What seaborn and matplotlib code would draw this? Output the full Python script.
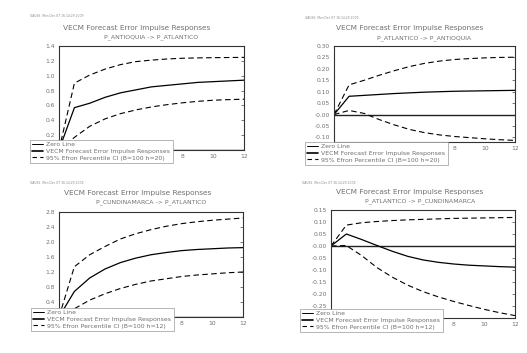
import numpy as np
import pandas as pd
import seaborn as sns
import matplotlib.pyplot as plt
from matplotlib.lines import Line2D

# Impulse responses (steps 0..12)
steps = list(range(13))

title = "VECM Forecast Error Impulse Responses"
stamp = "GAUSS  Mon Dec 07 16:14:29 2009"

# (1) P_ANTIOQUIA -> P_ATLANTICO
sub1 = "P_ANTIOQUIA -> P_ATLANTICO"
irf1 = [0, 0.57, 0.63, 0.71, 0.77, 0.81, 0.85, 0.87, 0.89, 0.91, 0.92, 0.93, 0.94]
up1 = [0, 0.90, 1.01, 1.09, 1.15, 1.19, 1.21, 1.225, 1.235, 1.24, 1.243, 1.245, 1.247]
lo1 = [0, 0.17, 0.32, 0.42, 0.49, 0.54, 0.58, 0.61, 0.635, 0.655, 0.67, 0.678, 0.684]
yt1 = [0.0, 0.2, 0.4, 0.6, 0.8, 1.0, 1.2, 1.4]
ylab1 = ["", "0.2", "0.4", "0.6", "0.8", "1.0", "1.2", "1.4"]

# (2) P_ATLANTICO -> P_ANTIOQUIA
sub2 = "P_ATLANTICO -> P_ANTIOQUIA"
irf2 = [0, 0.080, 0.084, 0.088, 0.092, 0.095, 0.098, 0.100, 0.102, 0.103, 0.104, 0.105, 0.106]
up2 = [0, 0.13, 0.15, 0.172, 0.192, 0.21, 0.224, 0.234, 0.241, 0.245, 0.248, 0.25, 0.251]
lo2 = [0, 0.018, 0.005, -0.022, -0.045, -0.065, -0.079, -0.089, -0.096, -0.101, -0.106, -0.110, -0.113]
yt2 = [-0.10, -0.05, 0.0, 0.05, 0.10, 0.15, 0.20, 0.25, 0.30]
ylab2 = ["-0.10", "-0.05", "-0.00", "0.05", "0.10", "0.15", "0.20", "0.25", "0.30"]

# (3) P_CUNDINAMARCA -> P_ATLANTICO
sub3 = "P_CUNDINAMARCA -> P_ATLANTICO"
irf3 = [0, 0.68, 1.04, 1.28, 1.45, 1.57, 1.66, 1.72, 1.77, 1.80, 1.82, 1.84, 1.85]
up3 = [0, 1.34, 1.66, 1.88, 2.08, 2.22, 2.33, 2.42, 2.49, 2.54, 2.58, 2.61, 2.64]
lo3 = [0, 0.22, 0.45, 0.62, 0.76, 0.87, 0.96, 1.02, 1.08, 1.12, 1.15, 1.18, 1.20]
yt3 = [0.0, 0.4, 0.8, 1.2, 1.6, 2.0, 2.4, 2.8]
ylab3 = ["", "0.4", "0.8", "1.2", "1.6", "2.0", "2.4", "2.8"]

# (4) P_ATLANTICO -> P_CUNDINAMARCA
sub4 = "P_ATLANTICO -> P_CUNDINAMARCA"
irf4 = [0, 0.05, 0.027, 0.002, -0.022, -0.043, -0.058, -0.068, -0.075, -0.080, -0.083, -0.086, -0.088]
up4 = [0, 0.087, 0.097, 0.102, 0.106, 0.109, 0.111, 0.113, 0.115, 0.116, 0.117, 0.118, 0.119]
lo4 = [0, 0.002, -0.04, -0.09, -0.13, -0.163, -0.19, -0.212, -0.231, -0.248, -0.264, -0.278, -0.29]
yt4 = [-0.30, -0.25, -0.20, -0.15, -0.10, -0.05, 0.0, 0.05, 0.10, 0.15]
ylab4 = ["", "-0.25", "-0.20", "-0.15", "-0.10", "-0.05", "-0.00", "0.05", "0.10", "0.15"]

# x tick labels under the legend are not visible in the original
xt = [0, 2, 4, 6, 8, 10, 12]
xlab = ["", "", "", "", "8", "10", "12"]

sns.set_style("white")
plt.rcParams["font.family"] = ["DejaVu Sans"]

W, H = 527, 353
fig = plt.figure(figsize=(W / 100, H / 100), dpi=100)
txt = "#707070"

panels = [
    # box (l, t, r, b) in px, ylim, legend anchor, title/sub/stamp positions
    dict(irf=irf1, up=up1, lo=lo1, sub=sub1, yt=yt1, ylab=ylab1, h=20,
         box=(59, 46, 244, 150), ylim=(0, 1.4), leg=(30, 140),
         tpos=(137, 28), spos=(151, 37), stpos=(30, 16)),
    dict(irf=irf2, up=up2, lo=lo2, sub=sub2, yt=yt2, ylab=ylab2, h=20,
         box=(334, 46, 515, 142), ylim=(-0.12, 0.30), leg=(305, 142),
         tpos=(410, 28), spos=(424, 38), stpos=(305, 18)),
    dict(irf=irf3, up=up3, lo=lo3, sub=sub3, yt=yt3, ylab=ylab3, h=12,
         box=(59, 212, 243, 317), ylim=(0, 2.8), leg=(31, 308),
         tpos=(138, 193), spos=(151, 202), stpos=(30, 183)),
    dict(irf=irf4, up=up4, lo=lo4, sub=sub4, yt=yt4, ylab=ylab4, h=12,
         box=(331, 210, 515, 318), ylim=(-0.30, 0.15), leg=(300, 309),
         tpos=(410, 192), spos=(420, 201), stpos=(302, 183)),
]

for p in panels:
    l, t, r, b = p["box"]
    ax = fig.add_axes([l / W, 1 - b / H, (r - l) / W, (b - t) / H])
    df = pd.DataFrame({"step": steps, "irf": p["irf"], "upper": p["up"], "lower": p["lo"]})

    ax.axhline(0, color="#222222", lw=1.0, zorder=1)
    sns.lineplot(data=df, x="step", y="irf", ax=ax, color="black", lw=0.9)
    sns.lineplot(data=df, x="step", y="upper", ax=ax, color="black", lw=0.8,
                 linestyle=(0, (5, 3)))
    sns.lineplot(data=df, x="step", y="lower", ax=ax, color="black", lw=0.8,
                 linestyle=(0, (5, 3)))

    ax.set_xlim(0, 12)
    ax.set_ylim(*p["ylim"])
    ax.set_xticks(xt, xlab)
    ax.set_yticks(p["yt"], p["ylab"])
    ax.set_xlabel("")
    ax.set_ylabel("")
    ax.tick_params(direction="in", length=2, width=0.5, right=True,
                   labelsize=4.3, labelcolor=txt, pad=3, color="#444444")
    for s in ax.spines.values():
        s.set_color("#333333")
        s.set_linewidth(0.8)

    handles = [Line2D([], [], color="black", lw=0.7),
               Line2D([], [], color="black", lw=1.2),
               Line2D([], [], color="black", lw=0.8, linestyle=(0, (4, 3)))]
    labels = ["Zero Line", title,
              "95% Efron Percentile CI (B=100 h={})".format(p["h"])]
    lx, ly = p["leg"]
    leg = ax.legend(handles, labels, loc="upper left",
                    bbox_to_anchor=(lx / W, 1 - ly / H),
                    bbox_transform=fig.transFigure, fontsize=4.45,
                    frameon=True, fancybox=False, framealpha=1,
                    edgecolor="#999999", borderpad=0.35, labelspacing=0.2,
                    handlelength=1.8, handletextpad=0.5, borderaxespad=0,
                    labelcolor=txt)
    leg.get_frame().set_linewidth(0.5)

    tx, ty = p["tpos"]
    fig.text(tx / W, 1 - ty / H, title, ha="center", va="center",
             fontsize=5.3, color=txt)
    sx, sy = p["spos"]
    fig.text(sx / W, 1 - sy / H, p["sub"], ha="center", va="center",
             fontsize=4.4, color=txt)
    stx, sty = p["stpos"]
    fig.text(stx / W, 1 - sty / H, stamp, ha="left", va="center",
             fontsize=2.2, color="#888888")

fig.savefig("out.png", dpi=100, facecolor="white")
